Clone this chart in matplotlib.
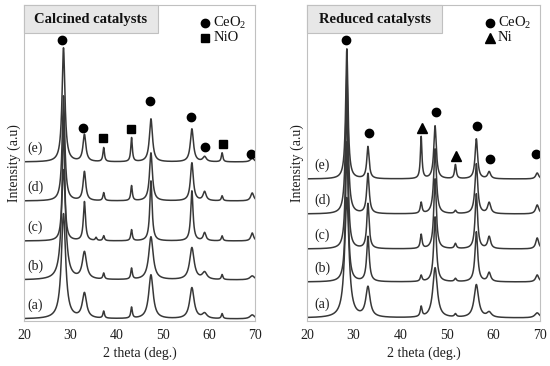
import numpy as np
import matplotlib
matplotlib.use("Agg")
import matplotlib.pyplot as plt
from matplotlib.patches import Rectangle

plt.rcParams['font.family'] = ['Liberation Serif', 'DejaVu Serif']
plt.rcParams['mathtext.fontset'] = 'custom'
plt.rcParams['mathtext.rm'] = 'Liberation Serif'
plt.rcParams['mathtext.it'] = 'Liberation Serif:italic'

# ---------------- data (peak lists, arbitrary units) ----------------
sample_labels = ["(a)", "(b)", "(c)", "(d)", "(e)"]

# Calcined catalysts
calc_positions = [28.55, 33.08, 35.6, 37.25, 43.28, 47.48, 56.34, 59.09, 62.88, 69.4]
calc_heights = {
    "(a)": [105, 25, 0, 7, 11, 44, 31, 5, 5, 4],
    "(b)": [110, 27, 0, 6, 11, 43, 32, 7, 5, 4],
    "(c)": [125, 39, 3, 5, 11, 60, 50, 8, 5, 8],
    "(d)": [105, 29, 0, 8, 15, 48, 38, 9, 5, 8],
    "(e)": [114, 27, 0, 14, 24, 43, 33, 5, 9, 4],
}
calc_widths = {
    "(a)": [1.1, 1.1, 0.4, 0.4, 0.4, 1.15, 1.15, 1.2, 0.4, 1.2],
    "(b)": [1.1, 1.1, 0.4, 0.4, 0.4, 1.15, 1.15, 1.2, 0.4, 1.2],
    "(c)": [0.55, 0.55, 0.4, 0.4, 0.4, 0.6, 0.6, 0.7, 0.4, 0.7],
    "(d)": [0.7, 0.7, 0.4, 0.4, 0.4, 0.75, 0.75, 0.8, 0.4, 0.8],
    "(e)": [0.75, 0.75, 0.4, 0.4, 0.4, 0.8, 0.8, 0.9, 0.4, 0.9],
}
calc_offsets = [2, 41, 80, 120, 159]

# Reduced catalysts
red_positions = [28.55, 33.08, 44.5, 47.48, 51.85, 56.34, 59.09, 69.4]
red_heights = {
    "(a)": [120, 30, 10, 50, 3, 33, 5, 5],
    "(b)": [140, 45, 6, 65, 3, 50, 9, 7],
    "(c)": [150, 45, 14, 70, 5, 55, 12, 11],
    "(d)": [140, 40, 11, 65, 3, 50, 11, 9],
    "(e)": [130, 32, 42, 53, 14, 40, 7, 6],
}
red_widths = {
    "(a)": [1.1, 1.1, 0.45, 1.15, 0.5, 1.15, 1.2, 1.2],
    "(b)": [0.65, 0.65, 0.45, 0.7, 0.5, 0.7, 0.8, 0.8],
    "(c)": [0.6, 0.6, 0.45, 0.65, 0.5, 0.65, 0.75, 0.75],
    "(d)": [0.65, 0.65, 0.45, 0.7, 0.5, 0.7, 0.8, 0.8],
    "(e)": [0.6, 0.6, 0.4, 0.65, 0.45, 0.65, 0.75, 0.75],
}
red_offsets = [3, 39, 72, 107, 142]

# Phase markers (2theta, height)
calc_ceo2_marks_x = [28.2, 32.8, 47.2, 56.2, 59.2, 69.2]
calc_ceo2_marks_y = [281, 193, 220, 204, 174, 167]
calc_nio_marks_x = [37.0, 43.1, 63.1]
calc_nio_marks_y = [183, 192, 177]
red_ceo2_marks_x = [28.4, 33.3, 47.7, 56.5, 59.2, 69.2]
red_ceo2_marks_y = [281, 188, 209, 195, 162, 167]
red_ni_marks_x = [44.7, 52.0]
red_ni_marks_y = [193, 165]

x_ticks = [20, 30, 40, 50, 60, 70]

# ---------------- drawing ----------------
LINE = "#383838"
SPINE = "#c0c0c0"
TXT = "#1e1e1e"


def pattern(x, positions, heights, widths):
    y = np.zeros_like(x)
    for p, h, w in zip(positions, heights, widths):
        g = (w / 2.0) ** 2
        y += h * g / ((x - p) ** 2 + g)
    return y


fig = plt.figure(figsize=(5.5, 3.66), dpi=100)
ax1 = fig.add_axes([24 / 550, 45 / 366, 231 / 550, 316 / 366])
ax2 = fig.add_axes([307 / 550, 45 / 366, 233 / 550, 316 / 366])

x = np.linspace(20, 70, 3000)


def setup(ax, title, positions, heights, widths, offsets, box_w,
          marks, legend_items, label_x):
    for lab, off in zip(sample_labels, offsets):
        y = pattern(x, positions, heights[lab], widths[lab]) + off
        ax.plot(x, y, color=LINE, lw=1.1, solid_joinstyle="round")
        ax.text(label_x, off + 14, lab, fontsize=10, ha="center", va="center", color=TXT)
    for mx, my, m, ms in marks:
        ax.plot(mx, my, ls="none", marker=m, ms=ms, color="black")
    ax.set_xlim(20, 70)
    ax.set_ylim(0, 316)
    ax.set_xticks(x_ticks)
    ax.set_xticklabels([str(t) for t in x_ticks], fontsize=10)
    ax.set_yticks([])
    ax.tick_params(axis="x", length=0, pad=6, colors=TXT)
    for s in ax.spines.values():
        s.set_color(SPINE)
        s.set_linewidth(0.8)
    ax.set_xlabel("2 theta (deg.)", fontsize=10, labelpad=3, color=TXT)
    ax.set_ylabel("Intensity (a.u)", fontsize=10, labelpad=2, color=TXT)
    ax.add_patch(Rectangle((0, 0.911), box_w, 0.089, transform=ax.transAxes,
                           facecolor="#e7e7e7", edgecolor=SPINE, lw=0.8, zorder=3,
                           clip_on=False))
    ax.text(box_w / 2, 0.9555, title, transform=ax.transAxes, fontsize=10.5,
            fontweight="bold", ha="center", va="center", zorder=4, color="#111111")
    for (yy, m, ms, txt) in legend_items:
        ax.plot([0.785], [yy], transform=ax.transAxes, marker=m, ms=ms,
                color="black", ls="none", clip_on=False)
        ax.text(0.82, yy, txt, transform=ax.transAxes, fontsize=10.5,
                ha="left", va="center", color="#111111")


setup(ax1, "Calcined catalysts", calc_positions, calc_heights, calc_widths,
      calc_offsets, 0.58,
      [(calc_ceo2_marks_x, calc_ceo2_marks_y, "o", 6.0),
       (calc_nio_marks_x, calc_nio_marks_y, "s", 5.2)],
      [(0.943, "o", 6.0, "CeO$_2$"), (0.896, "s", 5.2, "NiO")], 22.5)

setup(ax2, "Reduced catalysts", red_positions, red_heights, red_widths,
      red_offsets, 0.58,
      [(red_ceo2_marks_x, red_ceo2_marks_y, "o", 6.0),
       (red_ni_marks_x, red_ni_marks_y, "^", 6.5)],
      [(0.943, "o", 6.0, "CeO$_2$"), (0.896, "^", 6.5, "Ni")], 23.3)

fig.savefig("out.png", dpi=100)
